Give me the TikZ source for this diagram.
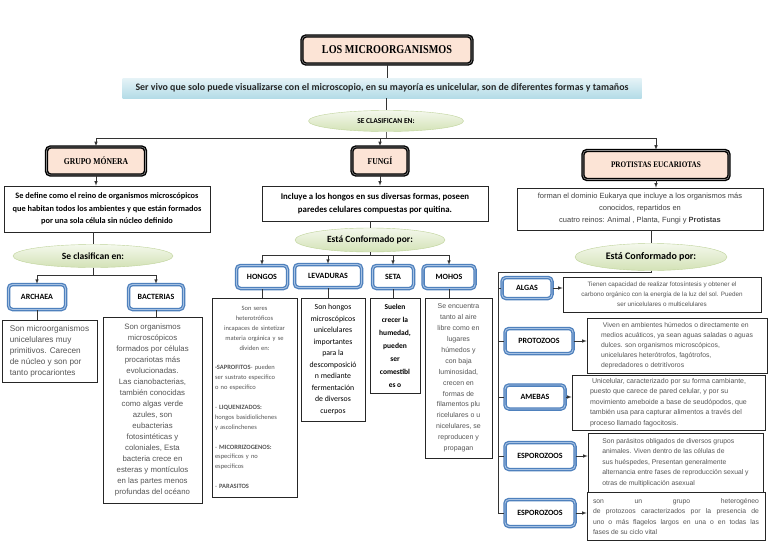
\documentclass[tikz,border=0pt]{standalone}
\usepackage{fontspec}
\usepackage{tikz}
\usetikzlibrary{shapes.geometric}
\setmainfont{Carlito}
\newfontfamily\arial{Liberation Sans}
\newfontfamily\slab[FakeStretch=0.85]{Liberation Serif}
\definecolor{peach}{HTML}{FCE4D6}
\definecolor{bluedge}{HTML}{4F81BD}
\definecolor{bluein}{HTML}{A7C2E3}
\definecolor{elltop}{HTML}{F4F8EC}
\definecolor{ellbot}{HTML}{D3E2B6}
\definecolor{ellline}{HTML}{BFD39A}
\definecolor{bandtop}{HTML}{E6F3F7}
\definecolor{bandbot}{HTML}{B4DCE7}
\definecolor{txtgray}{HTML}{555555}
\def\fs#1#2{\fontsize{#1}{#2}\selectfont}
\tikzset{
  cat/.style={draw=black, line width=1.4pt, double=black!45, double distance=0.6pt,
    rounded corners=4pt, fill=peach, inner sep=0pt, font=\slab\bfseries\fs{9}{10}},
  blu/.style={draw=bluedge, line width=1.3pt, double=bluein, double distance=0.9pt,
    rounded corners=4pt, fill=white, inner sep=0pt, font=\bfseries\fs{8}{9}},
  ell/.style={ellipse, draw=ellline, top color=elltop, bottom color=ellbot,
    inner sep=0pt, font=\bfseries\fs{9.5}{10}},
  band/.style={top color=bandtop, bottom color=bandbot, inner sep=0pt,
    text=black!85, font=\bfseries\fs{9.9}{11}},
  box/.style={draw=black!85, line width=0.7pt, fill=white, inner sep=2pt},
  gr/.style={box, text=txtgray, font=\arial\fs{7.8}{11}},
  con/.style={black!80, line width=0.6pt},
}
\begin{document}
\begin{tikzpicture}[x=1pt,y=-1pt,>=latex]
  \useasboundingbox (0,0) rectangle (768,543);
  \fill[white] (0,0) rectangle (768,543);
  % top
  \node[cat, minimum width=170, minimum height=28, font=\slab\bfseries\fs{12}{14}] (tit) at (387,50) {LOS MICROORGANISMOS};
  \node[band, minimum width=519, minimum height=20] (ser) at (382,88) {Ser vivo que solo puede visualizarse con el microscopio, en su mayoría es unicelular, son de diferentes formas y tamaños};
  \node[ell, minimum width=155, minimum height=21, font=\bfseries\fs{7.5}{9}] (sc) at (386,121) {SE CLASIFICAN EN:};
  \coordinate (tb) at (386,138);
  \node[cat, minimum width=99, minimum height=28] (mon) at (96,161) {GRUPO MÓNERA};
  \node[cat, minimum width=56, minimum height=28] (fun) at (380,161) {FUNGÍ};
  \node[cat, minimum width=146, minimum height=29, font=\slab\bfseries\fs{8.5}{10}] (eu) at (656,165) {PROTISTAS EUCARIOTAS};
  % left
  \node[box, minimum width=206, minimum height=46, align=center, font=\bfseries\fs{8.3}{12.5}] (dmon) at (107,209)
    {Se define como el reino de organismos microscópicos\\ que habitan todos los ambientes y que están formados\\ por una sola célula sin núcleo definido};
  \node[ell, minimum width=160, minimum height=23] (emon) at (93,256) {Se clasifican en:};
  \coordinate (jmon) at (93,275);
  \node[blu, minimum width=57, minimum height=25] (arc) at (37,297) {ARCHAEA};
  \node[blu, minimum width=55, minimum height=25] (bac) at (156,297) {BACTERIAS};
  \node[gr, minimum width=95, minimum height=62, align=left, font=\arial\fs{8.2}{11}] (tarc) at (49.5,351)
    {Son microorganismos\\ unicelulares muy\\ primitivos. Carecen\\ de núcleo y son por\\ tanto procariontes};
  \node[gr, minimum width=99, minimum height=186, align=center] (tbac) at (152.5,410)
    {Son organismos\\ microscópicos\\ formados por células\\ procariotas más\\ evolucionadas.\\ Las cianobacterias,\\ también conocidas\\ como algas verde\\ azules, son\\ eubacterias\\ fotosintéticas y\\ coloniales,  Esta\\ bacteria crece en\\ esteras y montículos\\ en las partes menos\\ profundas del océano};
  % middle
  \node[box, minimum width=226, minimum height=35, align=center, font=\bfseries\fs{8.8}{13}] (dfun) at (375,203.5)
    {Incluye a los hongos en sus diversas formas,  poseen\\ paredes celulares compuestas por quitina.};
  \node[ell, minimum width=150, minimum height=24] (efun) at (370,240) {Está Conformado por:};
  \coordinate (jfun) at (370,255);
  \node[blu, minimum width=51, minimum height=23] (hon) at (262,277) {HONGOS};
  \node[blu, minimum width=67, minimum height=23] (lev) at (328,276) {LEVADURAS};
  \node[blu, minimum width=41, minimum height=23] (set) at (393,277) {SETA};
  \node[blu, minimum width=52, minimum height=23] (moh) at (449,277) {MOHOS};
  \node[gr, minimum width=85, minimum height=199, text width=79, inner sep=3pt, align=left, font=\fs{6.5}{9.9}] (thon) at (254.5,397.5)
    {{\centering Son seres\\ heterotróficos\\ incapaces de sintetizar\\ materia orgánica y se\\ dividen en:\par}
     \vspace{9.9pt}\textbf{-SAPROFITOS}- pueden\\ ser sustrato especifico\\ o no especifico\par
     \vspace{9.9pt}- \textbf{LIQUENIZADOS:}\\ hongos basidiolichenes\\ y ascolinchenes\par
     \vspace{9.9pt}- \textbf{MICORRIZOGENOS:}\\ especificos y no\\ especificos\par
     \vspace{9.9pt}- \textbf{PARASITOS}};
  \node[box, minimum width=64, minimum height=123, align=center, font=\fs{7.8}{11.5}] (tlev) at (333,359.5)
    {Son hongos\\ microscópicos\\ unicelulares\\ importantes\\ para la\\ descomposició\\ n mediante\\ fermentación\\ de diversos\\ cuerpos};
  \node[box, minimum width=50, minimum height=95, align=center, font=\bfseries\fs{7.5}{13}] (tset) at (395,345.5)
    {Suelen\\ crecer la\\ humedad,\\ pueden\\ ser\\ comestibl\\ es o};
  \node[gr, minimum width=67, minimum height=160, align=center, font=\arial\fs{7}{10.9}] (tmoh) at (458.5,378)
    {Se encuentra\\ tanto al aire\\ libre como en\\ lugares\\ húmedos y\\ con baja\\ luminosidad,\\ crecen en\\ formas de\\ filamentos plu\\ ricelulares o u\\ nicelulares, se\\ reproducen y\\ propagan};
  % right
  \node[box, minimum width=246, minimum height=42, align=center, text=black!75, font=\arial\fs{7.5}{12}] (deu) at (640,209)
    {forman el dominio Eukarya que incluye a los organismos más\\ conocidos, repartidos en\\ cuatro reinos: Animal , Planta, Fungi y \textbf{Protistas}};
  \node[ell, minimum width=152, minimum height=27, font=\bfseries\fs{10}{11}] (eeu) at (651,257) {Está Conformado por:};
  \coordinate (jeu) at (498,272);
  \node[blu, minimum width=50, minimum height=21] (al) at (527,288) {ALGAS};
  \node[blu, minimum width=68, minimum height=25] (pz) at (539,341) {PROTOZOOS};
  \node[blu, minimum width=60, minimum height=24] (am) at (535,397) {AMEBAS};
  \node[blu, minimum width=70, minimum height=27] (es1) at (540,456) {ESPOROZOOS};
  \node[blu, minimum width=70, minimum height=27] (es2) at (540,513) {ESPOROZOOS};
  \node[gr, minimum width=198, minimum height=35, align=center, font=\arial\fs{6.3}{10}] (tal) at (662,294.5)
    {Tienen capacidad de realizar fotosíntesis y obtener el\\ carbono orgánico con la energía de la luz del sol. Pueden\\ ser unicelulares o multicelulares};
  \node[gr, minimum width=180, minimum height=55, align=left, font=\arial\fs{6.8}{10}] (tpz) at (677,345.5)
    {\ Viven en ambientes húmedos o directamente en\\ medios acuáticos, ya sean aguas saladas o aguas\\ dulces. son organismos microscópicos,\\ unicelulares  heterótrofos, fagótrofos,\\ depredadores o detritívoros};
  \node[gr, minimum width=193, minimum height=55, align=left, font=\arial\fs{7}{10.5}] (tam) at (668.5,402.5)
    {\ Unicelular,  caracterizado por su forma cambiante,\\ puesto que carece de pared celular, y por su\\ movimiento ameboide a base de seudópodos, que\\ también usa para capturar alimentos a través del\\ proceso llamado fagocitosis.};
  \node[gr, minimum width=175, minimum height=59, align=left, font=\arial\fs{6.8}{10.5}] (tes1) at (675.5,462.5)
    {Son parásitos obligados de diversos grupos\\ animales. Viven dentro de las células de\\ sus huéspedes,  Presentan generalmente\\ alternancia entre fases de reproducción sexual y\\ otras de multiplicación asexual};
  \node[gr, minimum width=178, minimum height=47, text width=166, inner sep=6pt, align=justify, font=\arial\fs{6.8}{10.5}] (tes2) at (676,516.5)
    {son un grupo heterogéneo\linebreak de protozoos caracterizados por la presencia de\linebreak uno o más flagelos largos en una o en todas las\linebreak fases de su ciclo vital};
  % connectors
  \draw[con] (tit) -- (tit |- ser.north);
  \draw[con] (sc |- ser.south) -- (sc);
  \draw[black!60, line width=1pt] (sc) -- (tb);
  \foreach \n in {mon,fun,eu} \draw[con,->] (tb) -| (\n);
  \draw[con,->] (mon) -- (mon |- dmon.north);
  \draw[con] (emon |- dmon.south) -- (emon) -- (jmon);
  \foreach \n in {arc,bac} \draw[con,->] (jmon) -| (\n);
  \draw[con,->] (fun) -- (fun |- dfun.north);
  \draw[con] (efun |- dfun.south) -- (efun) -- (jfun);
  \foreach \n in {hon,lev,set,moh} \draw[con,->] (jfun) -| (\n);
  \foreach \n in {arc,bac,hon,lev,set,moh} \draw[con] (\n) -- (\n |- t\n.north);
  \draw[con,->] (eu) -- (eu |- deu.north);
  \draw[con] (eeu |- deu.south) -- (eeu) -- (eeu |- jeu) -- (jeu) -- (jeu |- es2) -- (es2);
  \foreach \n in {al,pz,am,es1} \draw[con] (jeu |- \n) -- (\n);
  \foreach \n in {al,pz,am,es1,es2} \draw[con,->] (\n.east) -- (\n.east -| t\n.west);
\end{tikzpicture}
\end{document}
